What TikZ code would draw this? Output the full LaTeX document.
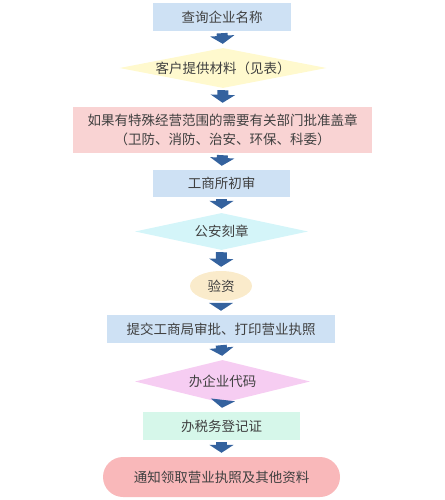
\documentclass[tikz,border=0pt]{standalone}
\usepackage{fontspec}
\setmainfont{Noto Sans CJK SC}
\usetikzlibrary{shapes.geometric,arrows.meta}

\definecolor{flowText}{RGB}{64,64,64}
\definecolor{flowArrow}{RGB}{52,98,158}
\definecolor{flowBlue}{RGB}{206,225,244}
\definecolor{flowYellow}{RGB}{255,249,206}
\definecolor{flowRose}{RGB}{249,211,211}
\definecolor{flowCyan}{RGB}{212,245,249}
\definecolor{flowSand}{RGB}{250,235,203}
\definecolor{flowOrchid}{RGB}{246,205,242}
\definecolor{flowMint}{RGB}{214,247,234}
\definecolor{flowCoral}{RGB}{249,184,186}

\begin{document}
\begin{tikzpicture}[x=1pt,y=-1pt,
      every node/.style={font=\fontsize{13.5}{19}\selectfont,
        text=flowText, inner sep=0pt},
      stepbox/.style={rectangle, minimum height=28pt},
      choice/.style={diamond, aspect=5},
      flow/.style={draw=flowArrow, line width=11pt,
        shorten <=2pt, shorten >=4pt,
        -{Triangle[width=24pt,length=8pt]}}]
      \useasboundingbox (0,0) rectangle (444,500);

      % Steps from top to bottom.
      \node[stepbox, fill=flowBlue, minimum width=138pt]
        (query) at (222,17) {查询企业名称};
      \node[choice, fill=flowYellow, minimum width=207pt, minimum height=40pt]
        (papers) at (223,68) {客户提供材料（见表）};
      \node[stepbox, fill=flowRose, minimum width=299pt, minimum height=46pt,
        align=center] (approve) at (222.5,130)
        {如果有特殊经营范围的需要有关部门批准盖章\\（卫防、消防、治安、环保、科委）};
      \node[stepbox, fill=flowBlue, minimum width=137pt, minimum height=27pt]
        (review) at (221.5,183.5) {工商所初审};
      \node[choice, fill=flowCyan, minimum width=173pt, minimum height=37pt]
        (seal) at (221.5,231.5) {公安刻章};
      \node[ellipse, fill=flowSand, minimum width=62pt, minimum height=30pt]
        (audit) at (221,286) {验资};
      \node[stepbox, fill=flowBlue, minimum width=228pt]
        (license) at (221,329) {提交工商局审批、打印营业执照};
      \node[choice, fill=flowOrchid, minimum width=175pt, minimum height=43pt]
        (code) at (222.5,381.5) {办企业代码};
      \node[stepbox, fill=flowMint, minimum width=157pt]
        (tax) at (221.5,426) {办税务登记证};
      \node[stepbox, fill=flowCoral, minimum width=237pt, minimum height=40pt,
        rounded corners=20pt] (collect) at (221.5,477)
        {通知领取营业执照及其他资料};

      % Block arrows between the steps.
      \foreach \from/\to in {query/papers,papers/approve,approve/review,
          review/seal,seal/audit,audit/license,license/code,code/tax,
          tax/collect}{
        \draw[flow] (\from.south) -- (\to.north);}
    \end{tikzpicture}
\end{document}
